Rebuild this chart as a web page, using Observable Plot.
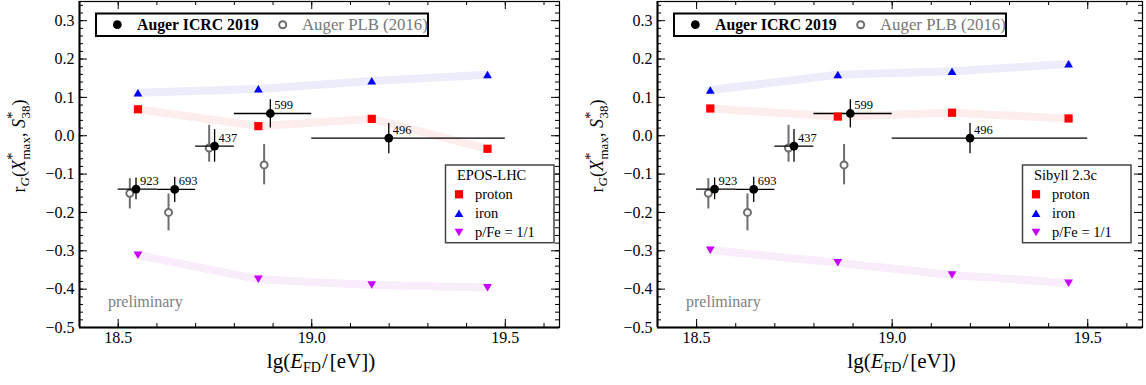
<!DOCTYPE html>
<html><head><meta charset="utf-8">
<script src="https://cdn.jsdelivr.net/npm/d3@7"></script>
<script src="https://cdn.jsdelivr.net/npm/@observablehq/plot@0.6"></script>
<style>
body{margin:0;background:#fff;}
#wrap{display:flex;width:1146px;height:385px;overflow:hidden;}
#wrap svg{display:block;}
#wrap svg text{font-family:'Liberation Serif','DejaVu Serif','Times New Roman',serif;}
</style></head><body><div id="wrap"></div>
<script>
// ---- Auger ICRC 2019 data (same in both panels) ----
const icrcE   = [18.546, 18.646, 18.749, 18.893, 19.199];
const icrcR   = [-0.139, -0.140, -0.027, 0.058, -0.006];
const icrcRlo = [-0.167, -0.174, -0.069, 0.020, -0.047];
const icrcRhi = [-0.110, -0.108, 0.016, 0.094, 0.032];
const icrcElo = [18.5, 18.6, 18.7, 18.8, 19.0];
const icrcEhi = [18.6, 18.7, 18.8, 19.0, 19.5];
const icrcN   = ["923", "693", "437", "599", "496"];
// ---- Auger PLB (2016) ----
const plbE   = [18.53, 18.63, 18.735, 18.877];
const plbR   = [-0.150, -0.200, -0.032, -0.076];
const plbRlo = [-0.191, -0.248, -0.069, -0.128];
const plbRhi = [-0.112, -0.152, 0.027, -0.023];
// ---- EPOS-LHC predictions ----
const eposE      = [18.551, 18.862, 19.155, 19.454];
const eposProton = [0.069, 0.025, 0.044, -0.034];
const eposIron   = [0.112, 0.122, 0.143, 0.159];
const eposMix    = [-0.311, -0.374, -0.389, -0.396];
// ---- Sibyll 2.3c predictions ----
const sibE      = [18.535, 18.861, 19.153, 19.451];
const sibProton = [0.071, 0.050, 0.060, 0.045];
const sibIron   = [0.119, 0.159, 0.168, 0.187];
const sibMix    = [-0.298, -0.331, -0.363, -0.384];
// ---- ticks ----
const xMajor = [18.5, 19.0, 19.5];
const xMinor = d3.range(184, 197).map(v => v / 10);
const yMajor = [-0.5, -0.4, -0.3, -0.2, -0.1, 0.0, 0.1, 0.2, 0.3];
const yMinor = d3.range(-50, 35, 2).map(v => v / 100);
const modelLabels = ["proton", "iron", "p/Fe = 1/1"];

const FONT = "'Liberation Serif', 'DejaVu Serif', 'Times New Roman', serif";
const C_P = "#ff0000", C_FE = "#0000ff", C_MIX = "#c800ff";
const B_P = "#fdeded", B_FE = "#ececfb", B_MIX = "#f9ecfb";
const GREY = "#6e6e6e";

const symSquare = {draw(c) { const s = 4.1; c.rect(-s, -s, 2*s, 2*s); }};
const symUp = {draw(c) { c.moveTo(0, -3.9); c.lineTo(4.4, 3.6); c.lineTo(-4.4, 3.6); c.closePath(); }};
const symDown = {draw(c) { c.moveTo(0, 3.9); c.lineTo(4.4, -3.6); c.lineTo(-4.4, -3.6); c.closePath(); }};

function panel({W, ml, mr, E, proton, iron, mix, name, legRight}) {
  const H = 385, mt = 1, mb = 58;
  const pw = W - ml - mr, ph = H - mt - mb;
  const icrc = icrcE.map((e, i) => ({e, r: icrcR[i], lo: icrcRlo[i], hi: icrcRhi[i], elo: icrcElo[i], ehi: icrcEhi[i], n: icrcN[i]}));
  const plb = plbE.map((e, i) => ({e, r: plbR[i], lo: plbRlo[i], hi: plbRhi[i]}));
  const mk = vals => E.map((e, i) => ({e, r: vals[i]}));
  const P = mk(proton), FE = mk(iron), MIX = mk(mix);
  const chart = Plot.plot({
    width: W, height: H, marginLeft: ml, marginRight: mr, marginTop: mt, marginBottom: mb,
    x: {domain: [18.4, 19.64], axis: null},
    y: {domain: [-0.5, 0.35], axis: null},
    style: {fontFamily: FONT, background: "white", color: "black"},
    marks: [
      Plot.line(FE, {x: "e", y: "r", stroke: B_FE, strokeWidth: 8}),
      Plot.line(P, {x: "e", y: "r", stroke: B_P, strokeWidth: 8}),
      Plot.line(MIX, {x: "e", y: "r", stroke: B_MIX, strokeWidth: 8}),
      // inward ticks on all four sides
      Plot.tickY(yMajor, {y: d => d, insetRight: pw - 8, stroke: "black"}),
      Plot.tickY(yMinor, {y: d => d, insetRight: pw - 4, stroke: "black"}),
      Plot.tickY(yMajor, {y: d => d, insetLeft: pw - 8, stroke: "black"}),
      Plot.tickY(yMinor, {y: d => d, insetLeft: pw - 4, stroke: "black"}),
      Plot.tickX(xMajor, {x: d => d, insetTop: ph - 8, stroke: "black"}),
      Plot.tickX(xMinor, {x: d => d, insetTop: ph - 4, stroke: "black"}),
      Plot.tickX(xMajor, {x: d => d, insetBottom: ph - 8, stroke: "black"}),
      Plot.tickX(xMinor, {x: d => d, insetBottom: ph - 4, stroke: "black"}),
      Plot.frame({stroke: "black", strokeWidth: 1.2}),
      Plot.ruleX([18.4], {stroke: "black", strokeWidth: 2}),
      Plot.ruleY([-0.5], {stroke: "black", strokeWidth: 2}),
      Plot.axisY({ticks: yMajor, tickSize: 0, tickPadding: 5, tickFormat: d3.format(".1f"), fontSize: 16, fontFamily: FONT}),
      Plot.axisX({ticks: xMajor, tickSize: 0, tickPadding: 4, tickFormat: d3.format(".1f"), fontSize: 16, fontFamily: FONT}),
      // Auger PLB 2016
      Plot.ruleX(plb, {x: "e", y1: "lo", y2: "hi", stroke: GREY, strokeWidth: 2}),
      Plot.dot(plb, {x: "e", y: "r", r: 3.5, stroke: GREY, strokeWidth: 2, fill: "white"}),
      // Auger ICRC 2019
      Plot.ruleY(icrc, {y: "r", x1: "elo", x2: "ehi", stroke: "black", strokeWidth: 1.3}),
      Plot.ruleX(icrc, {x: "e", y1: "lo", y2: "hi", stroke: "black", strokeWidth: 1.3}),
      // model markers
      Plot.dot(P, {x: "e", y: "r", symbol: symSquare, fill: C_P, stroke: "none"}),
      Plot.dot(FE, {x: "e", y: "r", symbol: symUp, fill: C_FE, stroke: "none"}),
      Plot.dot(MIX, {x: "e", y: "r", symbol: symDown, fill: C_MIX, stroke: "none"}),
      Plot.dot(icrc, {x: "e", y: "r", r: 4.4, fill: "black", stroke: "none"}),
      Plot.text(icrc, {x: "e", y: "r", text: "n", dx: 4, dy: -8, textAnchor: "start", fontSize: 12.5, fontFamily: FONT, fill: "black"})
    ]
  });
  const svg = d3.select(chart);
  const g = svg.append("g").attr("font-family", FONT).attr("text-anchor", "start");
  // top legend
  g.append("rect").attr("x", ml + 17).attr("y", 13.5).attr("width", 332).attr("height", 22.5)
    .attr("fill", "white").attr("stroke", "black").attr("stroke-width", 2);
  g.append("circle").attr("cx", ml + 38.3).attr("cy", 24.7).attr("r", 4.4).attr("fill", "black");
  g.append("text").attr("x", ml + 58).attr("y", 30.3).attr("font-weight", "bold").attr("font-size", 15.8)
    .attr("fill", "black").text("Auger ICRC 2019");
  g.append("circle").attr("cx", ml + 203.7).attr("cy", 24.7).attr("r", 3.5).attr("fill", "white")
    .attr("stroke", GREY).attr("stroke-width", 2);
  g.append("text").attr("x", ml + 223).attr("y", 30.3).attr("font-size", 16.8).attr("fill", "#777")
    .text("Auger PLB (2016)");
  // model legend
  const bx = W - mr - legRight - 108.5, by = 165;
  g.append("rect").attr("x", bx).attr("y", by).attr("width", 108.5).attr("height", 77.7)
    .attr("fill", "white").attr("stroke", "#444").attr("stroke-width", 1.5);
  g.append("text").attr("x", bx + 11.5).attr("y", by + 14.5).attr("font-size", 14.5).attr("fill", "black").text(name);
  const syms = [symSquare, symUp, symDown], cols = [C_P, C_FE, C_MIX];
  modelLabels.forEach((lab, i) => {
    const cy = by + 29.3 + 19 * i;
    g.append("path").attr("d", d3.symbol(syms[i])()).attr("transform", `translate(${bx + 13.5},${cy})`).attr("fill", cols[i]);
    g.append("text").attr("x", bx + 29.5).attr("y", cy + 5).attr("font-size", 14.5).attr("fill", "black").text(lab);
  });
  // preliminary
  g.append("text").attr("x", ml + 29).attr("y", 306.5).attr("font-size", 16).attr("fill", "#808080").text("preliminary");
  // y-axis title
  const yl = g.append("text").attr("transform", `translate(${ml - 54},146) rotate(-90)`)
    .attr("text-anchor", "middle").attr("font-size", 18).attr("fill", "black");
  yl.append("tspan").text("r");
  yl.append("tspan").attr("font-style", "italic").attr("font-size", 13).attr("dy", 4).text("G");
  yl.append("tspan").attr("dy", -4).text("(");
  yl.append("tspan").attr("font-style", "italic").text("X");
  yl.append("tspan").attr("font-size", 15).attr("dy", -8).text("*");
  yl.append("tspan").attr("font-size", 13).attr("dx", -7).attr("dy", 13).text("max");
  yl.append("tspan").attr("dy", -5).text(", ");
  yl.append("tspan").attr("font-style", "italic").text("S");
  yl.append("tspan").attr("font-size", 15).attr("dy", -8).text("*");
  yl.append("tspan").attr("font-size", 13).attr("dx", -7).attr("dy", 13).text("38");
  yl.append("tspan").attr("dy", -5).text(")");
  // x-axis title
  const xl = g.append("text").attr("x", ml + pw / 2 + 2).attr("y", 368).attr("text-anchor", "middle")
    .attr("font-size", 21).attr("fill", "black");
  xl.append("tspan").text("lg(");
  xl.append("tspan").attr("font-style", "italic").text("E");
  xl.append("tspan").attr("font-size", 14).attr("dy", 4).text("FD");
  xl.append("tspan").attr("dy", -4).attr("dx", 1).text("/");
  xl.append("tspan").attr("dx", 2).text("[eV])");
  return chart;
}

const wrap = document.getElementById("wrap");
wrap.appendChild(panel({W: 573, ml: 79, mr: 14, E: eposE, proton: eposProton, iron: eposIron, mix: eposMix, name: "EPOS-LHC", legRight: 5}));
wrap.appendChild(panel({W: 573, ml: 84, mr: 4, E: sibE, proton: sibProton, iron: sibIron, mix: sibMix, name: "Sibyll 2.3c", legRight: 11}));
</script></body></html>
